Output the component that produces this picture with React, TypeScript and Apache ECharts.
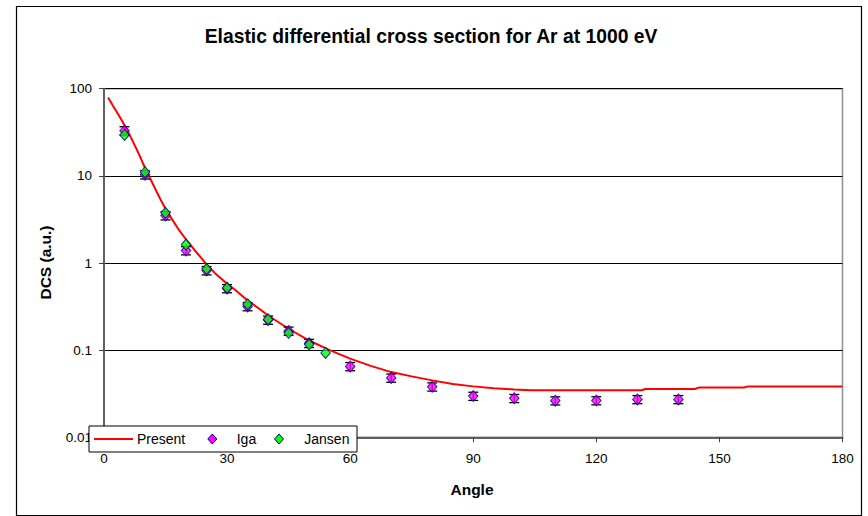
import React, { useEffect, useRef } from "react";
import * as echarts from "echarts";

const titleText = "Elastic differential cross section for Ar at 1000 eV";
const xAxisName = "Angle";
const yAxisName = "DCS (a.u.)";
const legendNames = ["Present", "Iga", "Jansen"];

const presentAngles = [1, 2, 3, 4, 5, 6, 7, 8, 9, 10, 12, 14, 15, 16, 18, 20, 22, 24, 25, 27, 30, 32, 35, 38, 40, 45, 50, 55, 60, 65, 70, 75, 80, 85, 90, 95, 100, 104, 131, 132, 144, 145, 156, 157, 180];
const presentDcs = [79.4, 66, 55, 46, 38, 31, 25, 20, 15.8, 12.3, 7.9, 5.1, 4.2, 3.5, 2.5, 1.86, 1.42, 1.1, 0.96, 0.77, 0.578, 0.49, 0.372, 0.295, 0.25, 0.176, 0.129, 0.1, 0.08, 0.066, 0.056, 0.05, 0.045, 0.041, 0.0384, 0.0366, 0.0354, 0.0346, 0.0346, 0.0358, 0.0358, 0.0372, 0.0372, 0.0384, 0.0384];

const igaAngles = [5, 10, 15, 20, 25, 30, 35, 40, 45, 50, 60, 70, 80, 90, 100, 110, 120, 130, 140];
const igaDcs = [33, 10.3, 3.5, 1.39, 0.82, 0.51, 0.317, 0.222, 0.166, 0.12, 0.065, 0.048, 0.038, 0.0297, 0.028, 0.0263, 0.0264, 0.0272, 0.0272];
const igaErr = [3.6, 1.1, 0.38, 0.15, 0.09, 0.055, 0.034, 0.024, 0.018, 0.013, 0.007, 0.0052, 0.0041, 0.0032, 0.003, 0.0028, 0.0028, 0.0029, 0.0029];

const jansenAngles = [5, 10, 15, 20, 25, 30, 35, 40, 45, 50, 54];
const jansenDcs = [29.5, 11, 3.76, 1.63, 0.857, 0.52, 0.337, 0.226, 0.157, 0.116, 0.093];

const xTicks = { min: 0, max: 180, interval: 30 };
const yTicks = { min: 0.01, max: 100 };

const FONT = "'Liberation Sans', Arial, sans-serif";

export default function App() {
  const ref = useRef<HTMLDivElement>(null);
  useEffect(() => {
    if (!ref.current) return;
    const chart = echarts.init(ref.current, undefined, { renderer: "svg" });
    const diamond = (cx: number, cy: number, fill: string) => ({
      type: "polygon",
      z: 101,
      shape: { points: [[cx, cy - 5], [cx + 4.5, cy], [cx, cy + 5], [cx - 4.5, cy]] },
      style: { fill, stroke: "#000080", lineWidth: 1 },
    });
    const option: any = {
      animation: false,
      backgroundColor: "#ffffff",
      grid: {
        left: 104,
        right: 25.5,
        top: 88.7,
        bottom: 78.7,
        show: true,
        borderColor: "#909090",
        borderWidth: 1.5,
        backgroundColor: "transparent",
      },
      xAxis: {
        type: "value",
        min: xTicks.min,
        max: xTicks.max,
        interval: xTicks.interval,
        axisLine: { show: true, lineStyle: { color: "#606060", width: 2 } },
        axisTick: { show: true, inside: false, length: 5, lineStyle: { color: "#404040", width: 1 } },
        axisLabel: { fontSize: 13.5, color: "#000", fontFamily: FONT, margin: 14.5 },
        splitLine: { show: false },
      },
      yAxis: {
        type: "log",
        logBase: 10,
        min: yTicks.min,
        max: yTicks.max,
        axisLine: { show: true, lineStyle: { color: "#606060", width: 2 } },
        axisTick: { show: true, inside: false, length: 5, lineStyle: { color: "#404040", width: 1 } },
        axisLabel: {
          fontSize: 13.5,
          color: "#000",
          fontFamily: FONT,
          margin: 12,
          formatter: (v: number) => String(parseFloat(v.toPrecision(3))),
        },
        splitLine: { show: true, lineStyle: { color: "#000", width: 1 } },
        minorTick: { show: false },
      },
      series: [
        {
          name: legendNames[0],
          type: "line",
          z: 2,
          symbol: "none",
          lineStyle: { color: "#ff0000", width: 2 },
          data: presentAngles.map((a, i) => [a, presentDcs[i]]),
        },
        {
          name: "IgaErr",
          type: "custom",
          z: 3,
          encode: { x: 0, y: 1 },
          data: igaAngles.map((a, i) => [a, igaDcs[i], igaErr[i]]),
          renderItem: (params: any, api: any) => {
            const x = api.value(0);
            const v = api.value(1);
            const e = api.value(2);
            const top = api.coord([x, v + e]);
            const bot = api.coord([x, v - e]);
            const w = 5;
            const st = { stroke: "#000", lineWidth: 1.3 };
            return {
              type: "group",
              children: [
                { type: "line", shape: { x1: top[0], y1: top[1], x2: bot[0], y2: bot[1] }, style: st },
                { type: "line", shape: { x1: top[0] - w, y1: top[1], x2: top[0] + w, y2: top[1] }, style: st },
                { type: "line", shape: { x1: bot[0] - w, y1: bot[1], x2: bot[0] + w, y2: bot[1] }, style: st },
              ],
            };
          },
        },
        {
          name: legendNames[1],
          type: "scatter",
          z: 4,
          symbol: "diamond",
          symbolSize: [9.5, 11],
          itemStyle: { color: "#ff00ff", borderColor: "#000080", borderWidth: 1 },
          data: igaAngles.map((a, i) => [a, igaDcs[i]]),
        },
        {
          name: legendNames[2],
          type: "scatter",
          z: 5,
          symbol: "diamond",
          symbolSize: [9.5, 11],
          itemStyle: { color: "#00ff00", borderColor: "#000080", borderWidth: 1 },
          data: jansenAngles.map((a, i) => [a, jansenDcs[i]]),
        },
      ],
      graphic: [
        {
          type: "rect",
          z: 0,
          silent: true,
          shape: { x: 16.5, y: 6.5, width: 845, height: 509 },
          style: { fill: "none", stroke: "#000", lineWidth: 1.2 },
        },
        {
          type: "text",
          z: 50,
          x: 431,
          y: 36.5,
          style: {
            text: titleText,
            fontFamily: FONT,
            fontWeight: "bold",
            fontSize: 19.3,
            fill: "#000",
            align: "center",
            verticalAlign: "middle",
          },
        },
        {
          type: "text",
          z: 50,
          x: 472,
          y: 489,
          style: {
            text: xAxisName,
            fontFamily: FONT,
            fontWeight: "bold",
            fontSize: 15.5,
            fill: "#000",
            align: "center",
            verticalAlign: "middle",
          },
        },
        {
          type: "text",
          z: 50,
          x: 45.3,
          y: 262.5,
          rotation: Math.PI / 2,
          style: {
            text: yAxisName,
            fontFamily: FONT,
            fontWeight: "bold",
            fontSize: 15.5,
            fill: "#000",
            align: "center",
            verticalAlign: "middle",
          },
        },
        {
          type: "rect",
          z: 100,
          shape: { x: 89, y: 426, width: 268, height: 26 },
          style: { fill: "#fff", stroke: "#000", lineWidth: 1 },
        },
        {
          type: "line",
          z: 101,
          shape: { x1: 94, y1: 439, x2: 133, y2: 439 },
          style: { stroke: "#ff0000", lineWidth: 2 },
        },
        {
          type: "text",
          z: 101,
          x: 137,
          y: 438.5,
          style: { text: legendNames[0], fontFamily: FONT, fontSize: 14, fill: "#000", align: "left", verticalAlign: "middle" },
        },
        diamond(212.3, 439, "#ff00ff"),
        {
          type: "text",
          z: 101,
          x: 236.7,
          y: 438.5,
          style: { text: legendNames[1], fontFamily: FONT, fontSize: 14, fill: "#000", align: "left", verticalAlign: "middle" },
        },
        diamond(279, 439, "#00ff00"),
        {
          type: "text",
          z: 101,
          x: 304.3,
          y: 438.5,
          style: { text: legendNames[2], fontFamily: FONT, fontSize: 14, fill: "#000", align: "left", verticalAlign: "middle" },
        },
      ],
    };
    chart.setOption(option);
    return () => chart.dispose();
  }, []);
  return (
    <div
      ref={ref}
      style={{ position: "absolute", left: 0, top: 0, width: 868, height: 516, background: "#fff" }}
    />
  );
}
